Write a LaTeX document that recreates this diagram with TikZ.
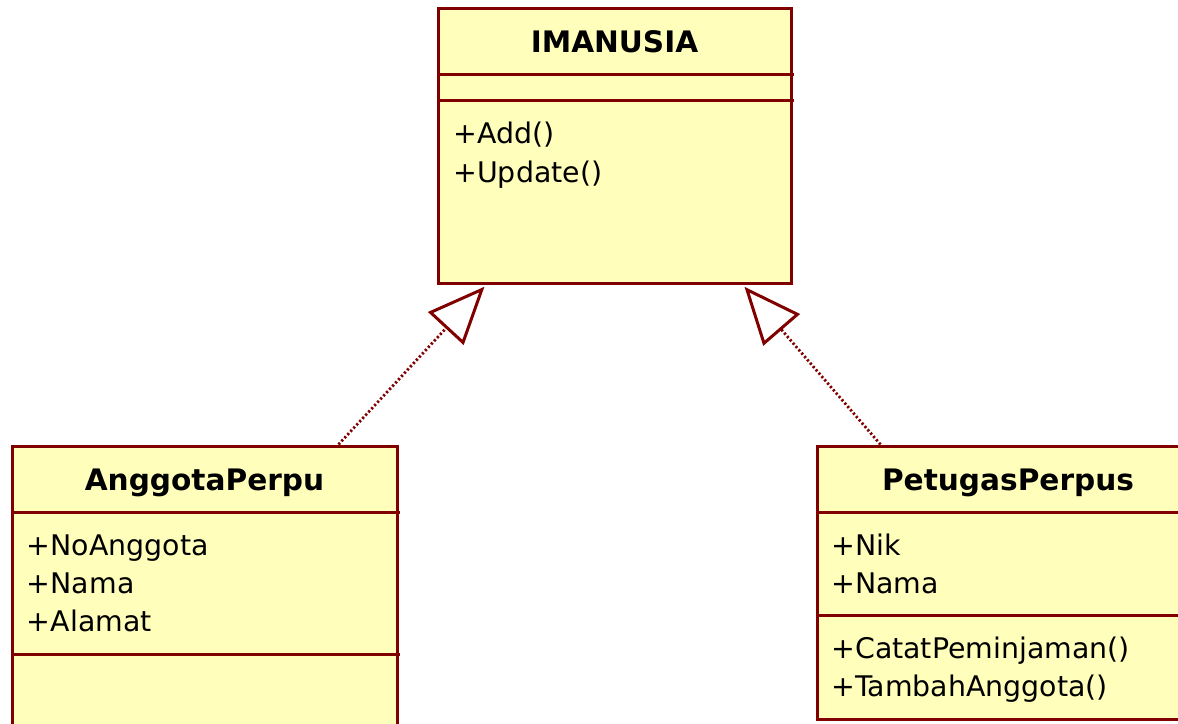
\documentclass[tikz,border=0pt]{standalone}
\usepackage{fontspec}
\setmainfont{DejaVu Sans}
\usetikzlibrary{arrows.meta,fit}

\definecolor{umlborder}{HTML}{800000}
\definecolor{umlfill}{HTML}{FFFFBB}

\tikzset{
    classbox/.style={draw=umlborder, fill=umlfill, line width=1.5pt, inner sep=0pt},
    divider/.style={draw=umlborder, line width=1.5pt},
    classname/.style={font=\fontsize{14.8}{17}\selectfont\bfseries, inner sep=0pt, anchor=base},
    member/.style={font=\fontsize{14.2}{17}\selectfont, inner sep=0pt, anchor=base west},
    realize/.style={umlborder, line width=1.4pt, dash pattern=on 1.1pt off 1.1pt,
        -{Triangle[open, length=28.5pt, width=24pt, line width=1.5pt]}, shorten >=1.5pt}
}

\begin{document}
\begin{tikzpicture}[x=0.5pt, y=-0.5pt]
    \useasboundingbox (0,0) rectangle (1178,723);
    \clip (0,0) rectangle (1178,723);

    % interface
    \node[classbox, fit={(438,8) (791,283)}] (imanusia) {};
    \draw[divider] (438,74) -- (794,74);
    \draw[divider] (438,100) -- (794,100);
    \node[classname] (imanusiaName) at (614.5,52) {IMANUSIA};
    \node[member] (add) at (453,143) {+Add()};
    \node[member] (update) at (453,182) {+Update()};

    % anggota
    \node[classbox, fit={(12,446) (397,770)}] (anggota) {};
    \draw[divider] (12,512) -- (400,512);
    \node[classname] (anggotaName) at (204.5,490) {AnggotaPerpu};
    \draw[divider] (12,654) -- (400,654);
    \node[member] (noAnggota) at (26.5,555) {+NoAnggota};
    \node[member] (namaA) at (26.5,593) {+Nama};
    \node[member] (alamat) at (26.5,631.5) {+Alamat};

    % petugas
    \node[classbox, fit={(817,446) (1199,719)}] (petugas) {};
    \draw[divider] (817,512) -- (1199,512);
    \draw[divider] (817,615) -- (1199,615);
    \node[classname] (petugasName) at (1008,490) {PetugasPerpus};
    \node[member] (nik) at (831,555) {+Nik};
    \node[member] (namaP) at (831,593) {+Nama};
    \node[member] (catat) at (831,658) {+CatatPeminjaman()};
    \node[member] (tambah) at (831,696) {+TambahAnggota()};

    \draw[realize] ([xshift=164pt]anggota.north west) -- ([xshift=25pt]imanusia.south west);
    \draw[realize] ([xshift=32.5pt]petugas.north west) -- ([xshift=-25pt]imanusia.south east);
\end{tikzpicture}
\end{document}
